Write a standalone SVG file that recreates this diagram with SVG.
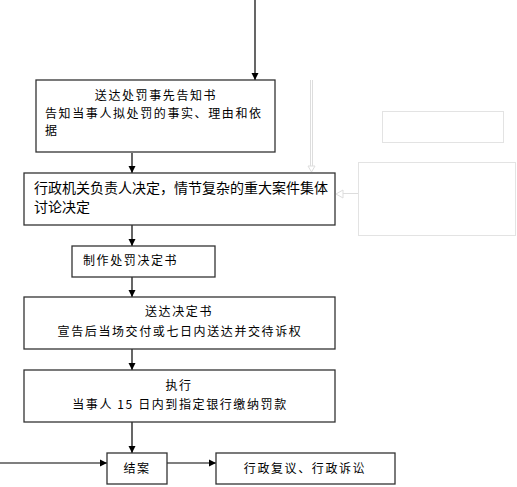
<svg xmlns="http://www.w3.org/2000/svg" width="517" height="487" viewBox="0 0 517 487">
<style>
.box{fill:#fff;stroke:#333;stroke-width:1.3}
.ghost{fill:#fff;stroke:#e3e3e3;stroke-width:1}
.t{font-family:"Noto Sans CJK SC","Liberation Sans",sans-serif;font-size:12px;fill:#000;letter-spacing:1.6px}
.t2{font-family:"Noto Sans CJK SC","Liberation Sans",sans-serif;font-size:14px;fill:#000}
.ln{stroke:#000;stroke-width:1.2;fill:none}
.lg{stroke:#ddd;stroke-width:1;fill:none}
</style>
<defs>
<marker id="ah" markerWidth="8" markerHeight="8" refX="7" refY="4" orient="auto" markerUnits="userSpaceOnUse">
<path d="M0,0.5 L7,4 L0,7.5 Z" fill="#000"/>
</marker>
</defs>
<g id="connectors">
<line class="ln" x1="255" y1="0" x2="255" y2="80" marker-end="url(#ah)"/>
<line class="ln" x1="132" y1="153" x2="132" y2="173" marker-end="url(#ah)"/>
<line class="ln" x1="132" y1="225" x2="132" y2="246" marker-end="url(#ah)"/>
<line class="ln" x1="132" y1="277" x2="132" y2="297" marker-end="url(#ah)"/>
<line class="ln" x1="132" y1="349" x2="132" y2="370" marker-end="url(#ah)"/>
<line class="ln" x1="132" y1="422" x2="132" y2="453" marker-end="url(#ah)"/>
<line class="ln" x1="0" y1="463" x2="107" y2="463" marker-end="url(#ah)"/>
<line class="ln" x1="167" y1="463" x2="216" y2="463" marker-end="url(#ah)"/>
<line class="lg" x1="310.5" y1="80" x2="310.5" y2="166"/>
<line class="lg" x1="312.5" y1="80" x2="312.5" y2="166"/>
<path d="M308,166 L311.5,172 L315,166 Z" fill="#fff" stroke="#ddd"/>
<line class="lg" x1="358" y1="193.5" x2="342" y2="193.5" stroke-width="2"/>
<path d="M343,190 L336,194 L343,198 Z" fill="#fff" stroke="#ddd"/>
</g>
<g id="n1">
<rect class="box" x="36" y="80" width="239" height="72"/>
<text class="t" x="156" y="100" text-anchor="middle">送达处罚事先告知书</text>
<text class="t" x="45" y="118">告知当事人拟处罚的事实、理由和依</text>
<text class="t" x="45" y="135">据</text>
</g>
<g id="n2">
<rect class="box" x="24" y="173" width="311" height="52"/>
<text class="t2" x="34" y="193">行政机关负责人决定，情节复杂的重大案件集体</text>
<text class="t2" x="34" y="212">讨论决定</text>
</g>
<g id="n3">
<rect class="box" x="72" y="246" width="143" height="31"/>
<text class="t" x="83" y="265">制作处罚决定书</text>
</g>
<g id="n4">
<rect class="box" x="24" y="297" width="311" height="52"/>
<text class="t" x="179" y="316" text-anchor="middle">送达决定书</text>
<text class="t" x="180" y="336" text-anchor="middle">宣告后当场交付或七日内送达并交待诉权</text>
</g>
<g id="n5">
<rect class="box" x="24" y="370" width="311" height="52"/>
<text class="t" x="179" y="390" text-anchor="middle">执行</text>
<text class="t" x="180" y="409" text-anchor="middle">当事人 15 日内到指定银行缴纳罚款</text>
</g>
<g id="n6">
<rect class="box" x="107" y="453" width="60" height="31"/>
<text class="t" x="137" y="473" text-anchor="middle">结案</text>
</g>
<g id="n7">
<rect class="box" x="216" y="453" width="179" height="31"/>
<text class="t" x="305" y="473" text-anchor="middle">行政复议、行政诉讼</text>
</g>
<g id="ghost1">
<rect class="ghost" x="382.5" y="111.5" width="121" height="31"/>
</g>
<g id="ghost2">
<rect class="ghost" x="358.5" y="162.5" width="157" height="73"/>
</g>
</svg>
